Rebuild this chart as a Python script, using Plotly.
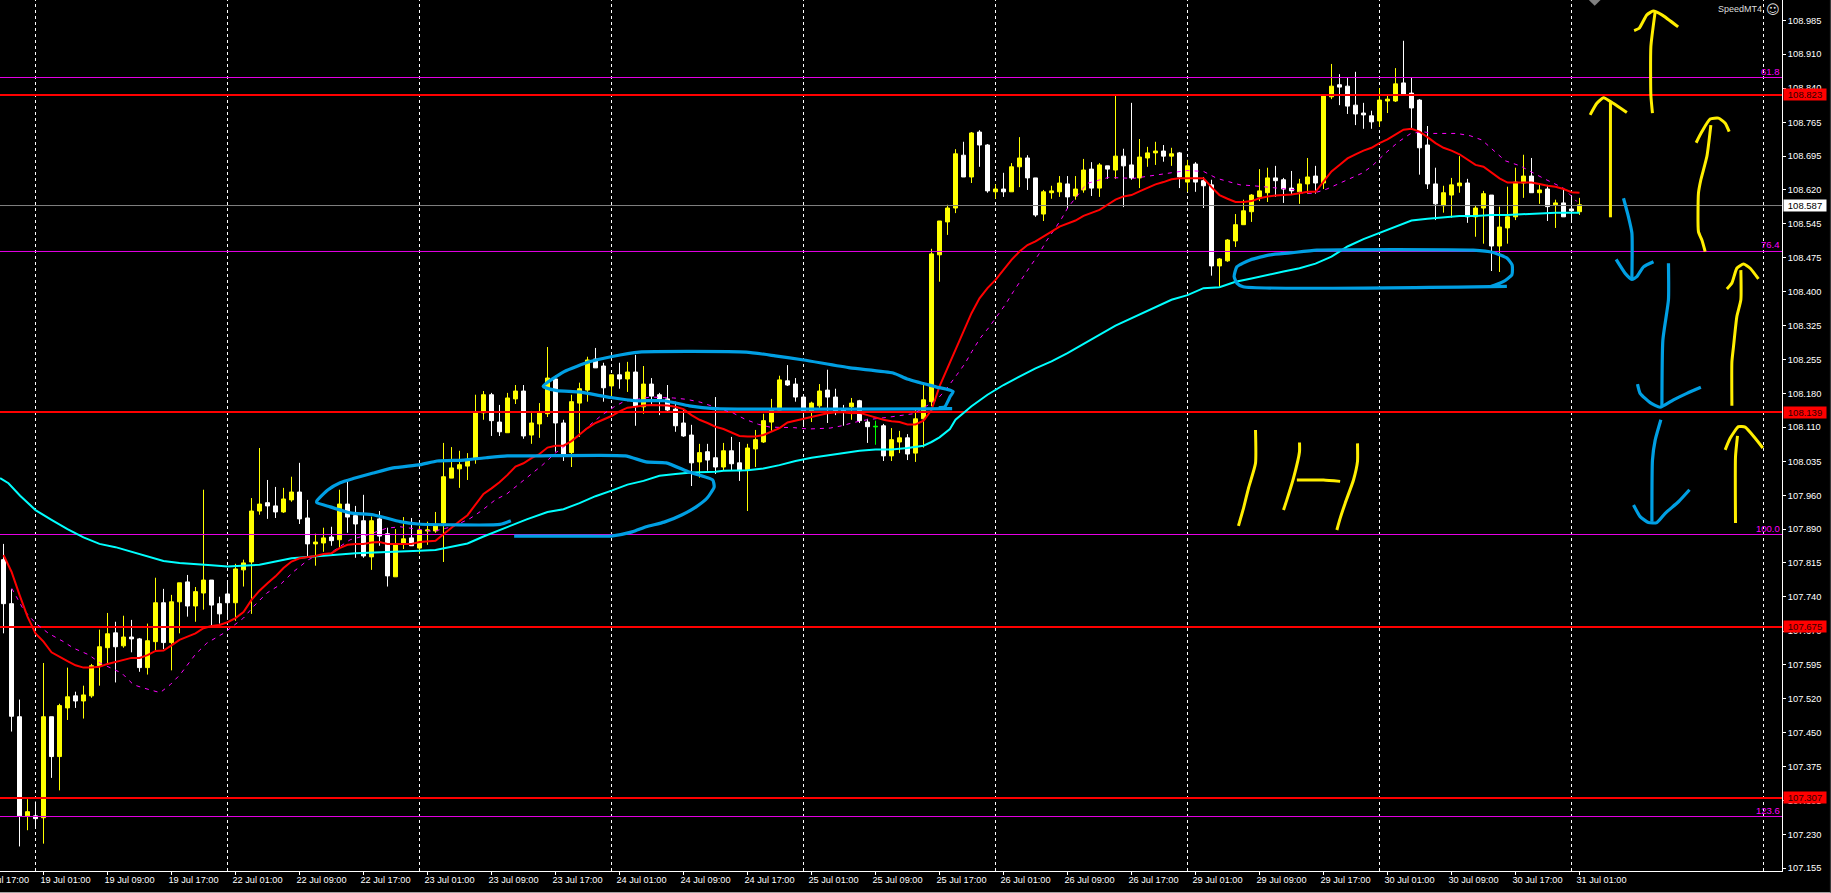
import plotly.graph_objects as go

first_bar = -5
highs = [107.855,107.757,107.519,107.304,107.299,
107.598,107.482,107.510,107.588,107.536,107.549,107.596,107.670,107.706,107.687,
107.700,107.691,107.652,107.683,107.782,107.758,107.745,107.771,107.788,107.762,
107.972,107.777,107.741,107.777,107.812,107.821,107.954,108.062,107.993,107.978,
107.976,108.000,108.030,107.950,107.877,107.890,107.892,107.972,107.989,107.937,
107.961,107.914,107.926,107.890,107.887,107.913,107.911,107.894,107.903,107.924,
108.073,108.064,108.056,108.051,108.177,108.185,108.181,108.155,108.181,108.198,
108.198,108.142,108.159,108.280,108.218,108.123,108.177,108.203,108.259,108.278,
108.246,108.220,108.246,108.248,108.263,108.239,108.213,108.181,108.198,108.162,
108.146,108.112,108.071,108.071,108.172,108.073,108.086,108.075,108.071,108.101,
108.136,108.168,108.218,108.241,108.213,108.172,108.162,108.200,108.231,108.190,
108.155,108.170,108.166,108.125,108.121,108.114,108.105,108.099,108.092,108.144,
108.198,108.492,108.552,108.587,108.707,108.723,108.744,108.748,108.718,108.631,
108.656,108.677,108.733,108.694,108.645,108.619,108.628,108.649,108.649,108.649,
108.686,108.679,108.677,108.671,108.822,108.708,108.807,108.729,108.712,108.723,
108.716,108.710,108.701,108.684,108.679,108.647,108.641,108.472,108.513,108.567,
108.598,108.610,108.664,108.667,108.671,108.645,108.660,108.643,108.688,108.671,
108.826,108.891,108.869,108.861,108.874,108.807,108.790,108.839,108.826,108.882,
108.941,108.861,108.815,108.757,108.667,108.628,108.645,108.692,108.643,108.585,
108.617,108.608,108.583,108.626,108.667,108.695,108.688,108.634,108.630,108.598,
108.621,108.608,108.602]
body_tops = [107.821,107.726,107.482,107.277,107.268,
107.482,107.482,107.506,107.525,107.527,107.529,107.592,107.633,107.661,107.663,
107.654,107.654,107.650,107.646,107.728,107.728,107.730,107.771,107.773,107.752,
107.777,107.777,107.726,107.747,107.801,107.814,107.926,107.941,107.944,107.937,
107.952,107.967,107.967,107.911,107.859,107.868,107.870,107.941,107.941,107.916,
107.905,107.905,107.909,107.877,107.855,107.866,107.868,107.885,107.885,107.894,
108.000,108.019,108.026,108.034,108.140,108.177,108.177,108.118,108.170,108.185,
108.185,108.116,108.138,108.213,108.211,108.116,108.162,108.190,108.252,108.254,
108.239,108.220,108.220,108.226,108.226,108.200,108.200,108.177,108.168,108.146,
108.116,108.090,108.052,108.054,108.041,108.056,108.056,108.030,108.062,108.080,
108.121,108.144,108.209,108.207,108.200,108.172,108.159,108.185,108.187,108.172,
108.144,108.159,108.164,108.118,108.109,108.110,108.080,108.084,108.084,108.125,
108.166,108.481,108.552,108.580,108.697,108.694,108.742,108.744,108.716,108.621,
108.621,108.669,108.688,108.688,108.645,108.615,108.617,108.634,108.632,108.621,
108.662,108.664,108.673,108.671,108.692,108.692,108.673,108.690,108.699,108.703,
108.703,108.697,108.699,108.671,108.675,108.639,108.630,108.470,108.511,108.544,
108.574,108.608,108.617,108.645,108.645,108.641,108.623,108.632,108.647,108.649,
108.824,108.843,108.846,108.843,108.802,108.785,108.779,108.813,108.815,108.848,
108.850,108.828,108.813,108.716,108.632,108.613,108.630,108.634,108.634,108.580,
108.611,108.608,108.539,108.561,108.636,108.649,108.649,108.619,108.621,108.591,
108.591,108.578,108.587]
body_bottoms = [107.726,107.483,107.268,107.268,107.262,
107.264,107.396,107.396,107.501,107.516,107.516,107.527,107.592,107.631,107.633,
107.635,107.650,107.588,107.588,107.644,107.642,107.642,107.730,107.721,107.721,
107.749,107.723,107.704,107.728,107.728,107.799,107.816,107.926,107.937,107.924,
107.924,107.950,107.909,107.855,107.855,107.857,107.862,107.864,107.913,107.898,
107.829,107.827,107.872,107.786,107.784,107.855,107.851,107.846,107.883,107.883,
107.900,107.997,108.017,108.023,108.038,108.138,108.121,108.097,108.095,108.168,
108.088,108.090,108.114,108.136,108.116,108.049,108.052,108.159,108.187,108.235,
108.192,108.196,108.211,108.211,108.153,108.151,108.174,108.168,108.144,108.110,
108.088,108.030,108.032,108.036,108.021,108.021,108.028,108.013,108.015,108.060,
108.075,108.118,108.144,108.198,108.172,108.142,108.142,108.153,108.172,108.141,
108.140,108.151,108.121,108.108,108.108,108.045,108.045,108.075,108.049,108.051,
108.125,108.162,108.479,108.550,108.580,108.647,108.647,108.716,108.617,108.615,
108.615,108.615,108.669,108.645,108.565,108.567,108.613,108.615,108.604,108.606,
108.619,108.623,108.623,108.664,108.662,108.671,108.645,108.645,108.688,108.699,
108.692,108.692,108.647,108.636,108.636,108.628,108.455,108.455,108.466,108.509,
108.544,108.572,108.604,108.613,108.639,108.621,108.617,108.615,108.632,108.634,
108.634,108.820,108.841,108.800,108.783,108.781,108.766,108.768,108.811,108.811,
108.824,108.796,108.710,108.632,108.589,108.585,108.608,108.628,108.561,108.561,
108.580,108.498,108.498,108.537,108.561,108.634,108.613,108.613,108.583,108.587,
108.561,108.574,108.572]
lows = [107.662,107.450,107.202,107.237,107.240,
107.208,107.350,107.323,107.475,107.501,107.478,107.523,107.549,107.598,107.556,
107.631,107.621,107.579,107.573,107.622,107.628,107.582,107.662,107.698,107.687,
107.713,107.678,107.683,107.691,107.689,107.763,107.704,107.918,107.909,107.911,
107.922,107.946,107.898,107.829,107.808,107.838,107.851,107.846,107.879,107.825,
107.825,107.799,107.851,107.763,107.784,107.844,107.851,107.834,107.853,107.879,
107.816,107.997,107.976,107.993,108.028,108.123,108.088,108.088,108.095,108.157,
108.082,108.071,108.084,108.129,108.054,108.034,108.021,108.086,108.162,108.235,
108.162,108.174,108.190,108.183,108.110,108.136,108.155,108.133,108.142,108.097,
108.086,107.980,107.998,108.013,108.006,108.013,108.013,107.991,107.926,108.021,
108.073,108.099,108.144,108.196,108.162,108.108,108.118,108.144,108.116,108.133,
108.110,108.123,108.116,108.073,108.069,108.034,108.034,108.051,108.036,108.032,
108.063,108.152,108.421,108.522,108.569,108.647,108.634,108.669,108.613,108.600,
108.604,108.615,108.625,108.619,108.561,108.552,108.600,108.604,108.578,108.598,
108.613,108.606,108.604,108.643,108.643,108.582,108.641,108.623,108.669,108.673,
108.680,108.671,108.623,108.615,108.615,108.580,108.434,108.410,108.464,108.496,
108.544,108.550,108.595,108.593,108.604,108.591,108.608,108.589,108.611,108.611,
108.621,108.815,108.802,108.783,108.759,108.751,108.751,108.755,108.785,108.809,
108.824,108.751,108.652,108.621,108.554,108.570,108.559,108.613,108.548,108.518,
108.503,108.444,108.442,108.503,108.554,108.602,108.613,108.589,108.552,108.537,
108.561,108.548,108.565]
directions = ("WWWYW" "YWYYWYYYYW" "YWWYYWYYWY" "YWWWYYYYWW" "YYWWYYWYWW" "WYWWYYWYYY"
              "YYYYYYWWYY" "WYYYWWYYYW" "WYWYWYWWWW" "WWYWWYWWYY" "YYYWWWYYWW" "WYWWGWYYWY"
              "YYYYYWYWWY" "WYYWWYYYWY" "YWYWYWWYYY" "WYWYWWWYYY" "YYYYWWWYYW" "YYWWWWWYYY"
              "WWWWWYYYWY" "YWYYYYWYWY" "WWY")

ma_red = [107.831,107.795,107.745,107.698,107.662,
107.644,107.621,107.611,107.602,107.593,107.588,107.588,107.590,107.596,107.600,
107.605,107.609,107.609,107.615,107.624,107.625,107.636,107.648,107.655,107.662,
107.673,107.678,107.680,107.686,107.695,107.708,107.734,107.754,107.770,107.785,
107.803,107.817,107.824,107.826,107.829,107.833,107.835,107.846,107.853,107.855,
107.855,107.858,107.859,107.855,107.855,107.855,107.855,107.859,107.861,107.862,
107.876,107.891,107.904,107.917,107.939,107.963,107.975,107.988,108.004,108.022,
108.029,108.040,108.049,108.063,108.067,108.067,108.077,108.092,108.105,108.116,
108.123,108.131,108.141,108.149,108.151,108.154,108.155,108.155,108.154,108.151,
108.146,108.133,108.123,108.116,108.108,108.103,108.095,108.088,108.087,108.087,
108.090,108.097,108.105,108.117,108.121,108.124,108.128,108.132,108.137,108.139,
108.139,108.137,108.138,108.133,108.128,108.123,108.120,108.118,108.113,108.113,
108.121,108.144,108.195,108.234,108.274,108.310,108.353,108.385,108.407,108.425,
108.446,108.468,108.486,108.500,108.508,108.518,108.529,108.540,108.546,108.553,
108.563,108.569,108.576,108.587,108.598,108.605,108.608,108.616,108.623,108.631,
108.636,108.642,108.644,108.644,108.644,108.644,108.625,108.608,108.600,108.593,
108.593,108.595,108.601,108.605,108.607,108.608,108.609,108.612,108.615,108.615,
108.637,108.659,108.673,108.687,108.696,108.704,108.710,108.720,108.728,108.738,
108.749,108.751,108.745,108.733,108.720,108.710,108.704,108.696,108.684,108.673,
108.669,108.657,108.644,108.635,108.635,108.635,108.635,108.632,108.628,108.626,
108.621,108.614,108.613]

ma_cyan_bars = [-5.42,-4.38,-2.92,-1,1,3,5,7,9,11,13,15,17,19,21,23,25,27,29,31,33,35,37,39,41,43,45,47,49,51,53,55,57,
60.4,63,65,67,69,71,73,75,77,79,81,84,85,88,90,92,94,96,98,100,102,104,106,108,110,111,112,113.3,
114,116,118,120,122,124,126,128,134,141,143,145,147,149,151,153,155,157,
159,161,163,165,167,169,171,173,175,177,179,181,183,185,187,189,191,192]
ma_cyan = [107.997,107.986,107.959,107.928,107.907,107.887,107.869,107.855,107.848,107.838,107.827,107.818,107.814,107.812,107.809,107.806,107.808,107.810,107.817,107.824,107.827,107.829,107.832,107.835,107.836,107.838,107.839,107.840,107.842,107.849,107.856,107.871,107.885,
107.908,107.924,107.930,107.943,107.958,107.970,107.983,107.991,108.002,108.006,108.009,108.011,108.013,108.014,108.018,108.025,108.034,108.041,108.046,108.052,108.056,108.059,108.059,108.062,108.067,108.075,108.085,108.103,
108.123,108.152,108.177,108.198,108.216,108.234,108.249,108.267,108.326,108.382,108.392,108.407,108.409,108.421,108.428,108.436,108.443,108.450,
108.460,108.475,108.497,108.513,108.526,108.540,108.553,108.557,108.560,108.563,108.563,108.565,108.565,108.567,108.569,108.570,108.570,108.570]

ma_magenta_bars = [-3.96,-2.5,-1,.62,2.5,3.75,5.62,7.08,9.79,11.25,12.5,14.58,15.83,17.08,18.96,20.42,22.5,25,26.25,27.92,29.58,31.25,33.12,33.96,35.83,38.33,40.42,42.92,44.58,48.75,51.25,53.33,
54.79,56.46,57.92,59.58,61.25,62.42,63.96,66.67,68.33,69.79,71.25,72.5,75.83,78.75,80.42,82.08,
86.25,87.71,89.38,90.83,93.75,95.62,98.33,99.79,101.25,102.92,105.42,107.29,108.75,111.67,112.92,
114.17,115.21,116.04,117.08,118.12,119.17,120.21,121.25,122.29,123.33,124.37,125.33,126.46,127.29,128.12,
128.42,130.42,133.12,136.25,139.17,140.83,142.92,145,146.67,148.12,149.58,151.25,153.96,156.67,
157.5,158.75,160.42,162.92,164.79,166.04,167.71,169.38,170.83,172.29,173.75,176.67,178.33,179.79,181.25,182.71,184.58,185.83,187.5,190,191.67]
ma_magenta = [107.759,107.713,107.684,107.662,107.644,107.630,107.616,107.598,107.576,107.551,107.544,107.534,107.551,107.573,107.616,107.641,107.662,107.695,107.720,107.749,107.767,107.795,107.821,107.828,107.835,107.864,107.874,107.889,107.892,107.882,107.893,107.910,
107.927,107.950,107.963,107.986,108.009,108.026,108.051,108.085,108.112,108.133,108.150,108.162,108.172,108.170,108.167,108.161,
108.137,108.124,108.113,108.107,108.106,108.103,108.105,108.110,108.117,108.123,108.128,108.133,108.136,108.166,108.191,
108.220,108.245,108.270,108.299,108.321,108.346,108.371,108.400,108.428,108.454,108.479,108.508,108.536,108.558,108.583,
108.589,108.633,108.646,108.644,108.651,108.655,108.661,108.659,108.644,108.637,108.630,108.628,108.623,108.619,
108.611,108.612,108.621,108.641,108.655,108.670,108.698,108.723,108.740,108.745,108.741,108.741,108.736,108.727,108.704,108.682,108.671,108.659,108.644,108.623,108.594]

red_levels = [108.8240, 108.1397, 107.6757, 107.3066]
red_labels = ["108.823", "108.139", "107.675", "107.307"]
fib_levels = [108.8617, 108.4862, 107.8753, 107.2666]
fib_names = ["61.8", "76.4", "100.0", "123.6"]
last_price = 108.5854
last_label = "108.587"

# Period separators (bar index)
separator_bars = [-1, 23, 47, 71, 95, 119, 143, 167, 191, 215]

# Axis ticks
price_ticks = [108.985,108.912,108.839,108.765,108.692,108.619,108.546,108.473,108.399,108.326,108.253,108.180,108.107,
               108.033,107.960,107.887,107.814,107.741,107.667,107.594,107.521,107.448,107.375,107.301,107.228,107.155]
price_labels = ["108.985","108.910","108.840","108.765","108.695","108.620","108.545","108.475","108.400","108.325","108.255","108.180","108.110",
                "108.035","107.960","107.890","107.815","107.740","107.670","107.595","107.520","107.450","107.375","107.305","107.230","107.155"]
time_ticks = [0,8,16,24,32,40,48,56,64,72,80,88,96,104,112,120,128,136,144,152,160,168,176,184,192]
time_labels = ["19 Jul 01:00","19 Jul 09:00","19 Jul 17:00","22 Jul 01:00","22 Jul 09:00","22 Jul 17:00",
               "23 Jul 01:00","23 Jul 09:00","23 Jul 17:00","24 Jul 01:00","24 Jul 09:00","24 Jul 17:00","25 Jul 01:00",
               "25 Jul 09:00","25 Jul 17:00","26 Jul 01:00","26 Jul 09:00","26 Jul 17:00","29 Jul 01:00","29 Jul 09:00",
               "29 Jul 17:00","30 Jul 01:00","30 Jul 09:00","30 Jul 17:00","31 Jul 01:00"]
clipped_time_label = "18 Jul 17:00"

# Hand-drawn strokes: (bar, price) readings
blue_strokes = [
 [(58.42,107.905),(57.08,107.897),(46.83,107.898),(44.58,107.903),(41.21,107.918),(38.33,107.922),(35.83,107.935),(34.17,107.944),(34.17,107.948),(35.58,107.972),(37.08,107.987),(38.71,107.996),(41.21,108.008),(43.71,108.019),(47.08,108.026),(49.21,108.034),(52.58,108.036),(55.33,108.041),(57.96,108.045),(61.58,108.045),(72.71,108.045),(75.33,108.032),(77.83,108.030),(80.71,108.010),(83.65,107.993),(83.83,107.978),(82.96,107.954),(81.58,107.935),(79.83,107.918),(77.58,107.902),(75.33,107.892),(73.58,107.881),(70.96,107.872),(66.91,107.872),(58.83,107.872)],
 [(113.58,108.147),(83.83,108.147),(80.71,108.153),(77.58,108.164),(74.05,108.164),(70.92,108.171),(66.91,108.183),(64.21,108.186),(62.46,108.195),(65.08,108.227),(68.21,108.248),(70.92,108.259),(74.46,108.269),(87.83,108.269),(91.46,108.261),(95.03,108.252),(100.83,108.235),(106.21,108.224),(107.96,108.211),(111.55,108.194),(113.71,108.184),(113.33,108.173),(112.66,108.151),(111.91,108.149)],
 [(182.92,108.411),(149.96,108.410),(149.17,108.418),(148.83,108.432),(149.17,108.453),(150.83,108.468),(153.33,108.479),(155.83,108.483),(159.17,108.489),(178.71,108.489),(181.21,108.484),(182.92,108.472),(183.58,108.457),(183.55,108.436),(182.46,108.421),(180.83,108.410)],
 [(197.50,108.601),(198.12,108.561),(198.55,108.526),(198.55,108.429)],
 [(196.58,108.469),(197.71,108.439),(198.55,108.426),(199.17,108.432),(200.00,108.453),(201.25,108.464)],
 [(203.12,108.461),(203.12,108.382),(202.42,108.295),(202.30,108.151)],
 [(199.25,108.200),(199.58,108.180),(200.83,108.160),(202.08,108.150),(203.75,108.166),(205.42,108.180),(207.17,108.193)],
 [(202.17,108.123),(201.46,108.079),(201.12,108.036),(201.05,107.903)],
 [(198.75,107.939),(199.58,107.914),(200.62,107.901),(201.67,107.901),(202.71,107.921),(204.37,107.946),(205.75,107.972)],
]
yellow_strokes = [
 [(201.12,108.785),(200.92,108.824),(200.92,108.928),(201.46,109.004)],
 [(198.83,108.963),(199.46,108.968),(200.42,108.997),(201.21,109.005),(202.30,108.997),(204.33,108.971)],
 [(195.87,108.560),(195.87,108.810)],
 [(193.33,108.781),(194.17,108.806),(195.00,108.818),(196.21,108.806),(197.92,108.786)],
 [(207.71,108.486),(207.30,108.511),(206.87,108.529),(206.87,108.612),(207.17,108.641),(207.92,108.691),(208.42,108.759)],
 [(206.58,108.721),(207.30,108.745),(208.33,108.772),(209.37,108.774),(210.21,108.763),(210.71,108.745)],
 [(211.05,108.153),(211.05,108.248),(211.25,108.281),(211.67,108.346),(212.17,108.382),(212.17,108.446)],
 [(210.42,108.405),(211.05,108.418),(211.67,108.450),(212.50,108.459),(213.33,108.450),(214.37,108.427)],
 [(211.50,107.900),(211.50,108.043),(211.75,108.088)],
 [(210.21,108.058),(210.83,108.083),(211.87,108.108),(212.71,108.107),(213.96,108.083),(214.92,108.062)],
 [(151.50,108.101),(151.50,108.029),(150.62,107.975),(150.00,107.932),(149.37,107.894)],
 [(157.00,108.074),(157.00,108.054),(156.25,107.997),(155.42,107.950),(155.00,107.928)],
 [(156.67,107.993),(160.00,107.993),(162.08,107.990)],
 [(164.25,108.072),(164.25,108.033),(163.75,107.993),(162.71,107.943),(162.08,107.910),(161.67,107.885)],
]

X_RANGE = [-5.4375, 217.3125]
Y_RANGE = [107.149, 109.029]

bars = list(range(first_bar, first_bar + len(highs)))
assert len(highs) == len(body_tops) == len(body_bottoms) == len(lows) == len(directions) == len(ma_red) == len(bars)
opens = [b if d == "Y" else t for d, t, b in zip(directions, body_tops, body_bottoms)]
closes = [t if d == "Y" else b for d, t, b in zip(directions, body_tops, body_bottoms)]
main = [i for i, d in enumerate(directions) if d != "G"]
doji = [i for i, d in enumerate(directions) if d == "G"]


def pick(seq, idx):
    return [seq[i] for i in idx]


fig = go.Figure()

for b in separator_bars:
    fig.add_shape(type="line", xref="x", yref="y", x0=b, x1=b, y0=Y_RANGE[0], y1=Y_RANGE[1],
                  layer="below", line=dict(color="#ffffff", width=1, dash="3px,3px"))
# Window edges of the screenshot
fig.add_shape(type="line", xref="paper", yref="paper", x0=0, x1=1.0275, y0=-0.0247, y1=-0.0247,
              line=dict(color="#a0a0a0", width=1))
fig.add_shape(type="line", xref="paper", yref="paper", x0=1.02717, x1=1.02717, y0=-0.0247, y1=1,
              line=dict(color="#404040", width=1))

fig.add_trace(go.Candlestick(
    x=pick(bars, main), open=pick(opens, main), high=pick(highs, main), low=pick(lows, main), close=pick(closes, main),
    increasing=dict(line=dict(color="#ffff00", width=1), fillcolor="#ffff00"),
    decreasing=dict(line=dict(color="#ffffff", width=1), fillcolor="#ffffff"),
    showlegend=False))
fig.add_trace(go.Candlestick(
    x=pick(bars, doji), open=pick(opens, doji), high=pick(highs, doji), low=pick(lows, doji), close=pick(closes, doji),
    increasing=dict(line=dict(color="#00ff00", width=1), fillcolor="#00ff00"),
    decreasing=dict(line=dict(color="#00ff00", width=1), fillcolor="#00ff00"),
    showlegend=False))

for lvl in fib_levels:
    fig.add_trace(go.Scatter(x=X_RANGE, y=[lvl, lvl], mode="lines", line=dict(color="#e600e6", width=1), showlegend=False))
fig.add_trace(go.Scatter(x=X_RANGE, y=[last_price, last_price], mode="lines", line=dict(color="#808080", width=1), showlegend=False))
for lvl in red_levels:
    fig.add_trace(go.Scatter(x=X_RANGE, y=[lvl, lvl], mode="lines", line=dict(color="#ff0000", width=2), showlegend=False))

fig.add_trace(go.Scatter(x=ma_magenta_bars, y=ma_magenta, mode="lines",
                         line=dict(color="#ff00ff", width=1, dash="4px,5px"), showlegend=False))
fig.add_trace(go.Scatter(x=ma_cyan_bars, y=ma_cyan, mode="lines", line=dict(color="#00ffff", width=2), showlegend=False))
fig.add_trace(go.Scatter(x=bars, y=ma_red, mode="lines", line=dict(color="#ff0000", width=2), showlegend=False))

for stroke in blue_strokes:
    fig.add_trace(go.Scatter(x=[p[0] for p in stroke], y=[p[1] for p in stroke], mode="lines",
                             line=dict(color="#009fe3", width=3.2, shape="spline", smoothing=0.5), showlegend=False))
for stroke in yellow_strokes:
    fig.add_trace(go.Scatter(x=[p[0] for p in stroke], y=[p[1] for p in stroke], mode="lines",
                             line=dict(color="#ffee00", width=3, shape="spline", smoothing=0.5), showlegend=False))

fig.add_trace(go.Scatter(x=[193.9], y=[109.029], mode="markers",
                         marker=dict(symbol="diamond", size=9, color="#808080"), showlegend=False))

anns = []
for name, lvl in zip(fib_names, fib_levels):
    anns.append(dict(xref="paper", yref="y", x=0.9995, y=lvl, text=name, showarrow=False, xanchor="right", yanchor="bottom",
                     font=dict(family="Liberation Sans", size=9.5, color="#ff00ff"), borderpad=0))
for lab, lvl in zip(red_labels, red_levels):
    anns.append(dict(xref="paper", yref="y", x=1.00073, y=lvl, text=lab, showarrow=False, xanchor="left", yanchor="middle",
                     width=42, height=11, align="center", bgcolor="#ff0000", borderpad=0,
                     font=dict(family="Liberation Sans", size=9.5, color="#300000")))
anns.append(dict(xref="paper", yref="y", x=1.00073, y=last_price, text=last_label, showarrow=False, xanchor="left", yanchor="middle",
                 width=42, height=11, align="center", bgcolor="#ffffff", borderpad=0,
                 font=dict(family="Liberation Sans", size=9.5, color="#000000")))
anns.append(dict(xref="paper", yref="paper", x=0.9893, y=1, text="SpeedMT4", showarrow=False, xanchor="right", yanchor="top", yshift=-3,
                 font=dict(family="Liberation Sans", size=9, color="#dddddd"), borderpad=0))
anns.append(dict(xref="paper", yref="paper", x=0.9996, y=1, text="\u263a", showarrow=False, xanchor="right", yanchor="top", yshift=-1,
                 font=dict(family="DejaVu Sans", size=13, color="#dddddd"), borderpad=0))
anns.append(dict(xref="paper", yref="paper", x=-22.0/1782, y=-9.0/871, text=clipped_time_label, showarrow=False, xanchor="left", yanchor="middle",
                 font=dict(family="Liberation Sans", size=9.2, color="#ffffff"), borderpad=0))

fig.update_layout(
    width=1831, height=893, autosize=False,
    margin=dict(l=0, r=49, t=0, b=22, pad=0),
    paper_bgcolor="#000000", plot_bgcolor="#000000",
    boxgap=0.5, boxgroupgap=0, boxmode="overlay",
    showlegend=False, annotations=anns,
    font=dict(family="Liberation Sans", size=9, color="#ffffff"),
    xaxis=dict(range=X_RANGE, tickmode="array", tickvals=time_ticks, ticktext=time_labels,
               rangeslider=dict(visible=False), showgrid=False, zeroline=False,
               showline=True, linecolor="#ffffff", linewidth=1, ticks="outside", ticklen=3, tickcolor="#ffffff",
               ticklabelposition="outside right", ticklabelshift=-4, tickangle=0, mirror=False,
               tickfont=dict(family="Liberation Sans", size=9.2, color="#ffffff")),
    yaxis=dict(range=Y_RANGE, side="right", tickmode="array", tickvals=price_ticks, ticktext=price_labels,
               showgrid=False, zeroline=False, showline=True, linecolor="#ffffff", linewidth=1,
               ticks="outside", ticklen=3, tickcolor="#ffffff",
               tickfont=dict(family="Liberation Sans", size=9.3, color="#ffffff")),
)

fig.write_html("out.html", config=dict(displayModeBar=False),
               post_script="document.body.style.margin='0';document.body.style.background='#000';document.body.style.overflow='hidden';")
